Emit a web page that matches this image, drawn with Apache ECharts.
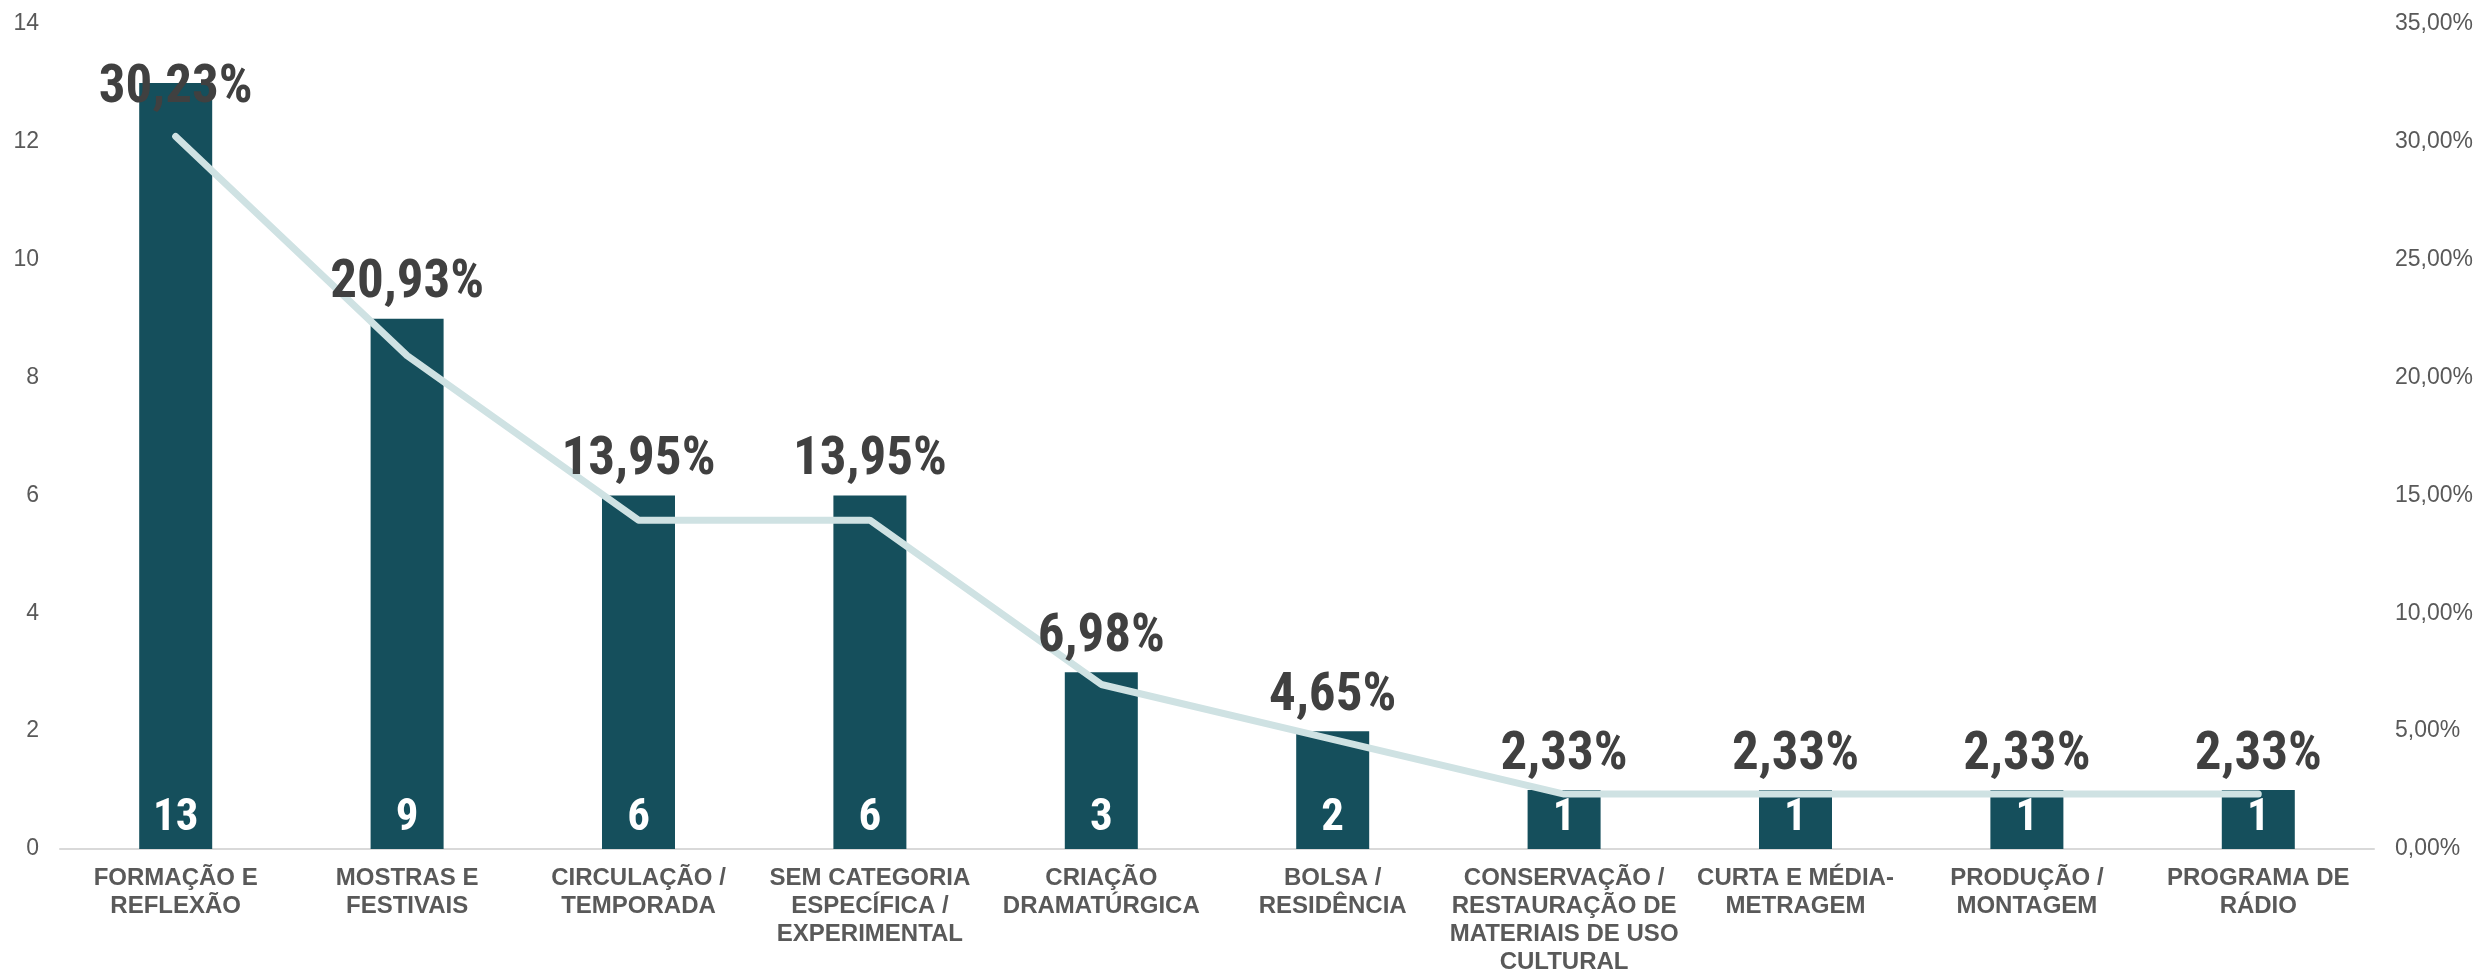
<!DOCTYPE html>
<html>
<head>
<meta charset="utf-8">
<script src="https://cdn.jsdelivr.net/npm/echarts@6/dist/echarts.min.js"></script>
<style>
html, body { margin: 0; padding: 0; background: #fff; }
#container { width: 2476px; height: 976px; }
</style>
</head>
<body>
<div id="container"></div>
<script>
var dom = document.getElementById('container');
var myChart = echarts.init(dom);

// categorias (com quebra de linha como no gráfico original)
var categories = [
    'FORMAÇÃO E\nREFLEXÃO',
    'MOSTRAS E\nFESTIVAIS',
    'CIRCULAÇÃO /\nTEMPORADA',
    'SEM CATEGORIA\nESPECÍFICA /\nEXPERIMENTAL',
    'CRIAÇÃO\nDRAMATÚRGICA',
    'BOLSA /\nRESIDÊNCIA',
    'CONSERVAÇÃO /\nRESTAURAÇÃO DE\nMATERIAIS DE USO\nCULTURAL',
    'CURTA E MÉDIA-\nMETRAGEM',
    'PRODUÇÃO /\nMONTAGEM',
    'PROGRAMA DE\nRÁDIO'
];

// quantidade de projetos
var counts = [13, 9, 6, 6, 3, 2, 1, 1, 1, 1];

// percentual de cada categoria
var percents = [30.23, 20.93, 13.95, 13.95, 6.98, 4.65, 2.33, 2.33, 2.33, 2.33];

var axisFont = '"Liberation Sans", Arial, sans-serif';
var condensed = 'Roboto, sans-serif';

function pct(v) {
    return v.toFixed(2).replace('.', ',') + '%';
}

var option = {
    backgroundColor: '#ffffff',
    animation: false,
    grid: {
        left: 60,
        right: 100,
        top: 24,
        bottom: 122
    },
    xAxis: {
        type: 'category',
        data: categories,
        axisTick: { show: false },
        axisLine: { lineStyle: { color: '#d9d9d9', width: 2 } },
        axisLabel: {
            interval: 0,
            margin: 15,
            color: '#595959',
            fontFamily: axisFont,
            fontWeight: 'bold',
            fontSize: 24,
            lineHeight: 28
        }
    },
    yAxis: [
        {
            type: 'value',
            min: 0,
            max: 14,
            interval: 2,
            splitLine: { show: false },
            axisLine: { show: false },
            axisTick: { show: false },
            axisLabel: {
                margin: 21,
                color: '#595959',
                fontFamily: axisFont,
                fontSize: 23
            }
        },
        {
            type: 'value',
            min: 0,
            max: 35,
            interval: 5,
            splitLine: { show: false },
            axisLine: { show: false },
            axisTick: { show: false },
            axisLabel: {
                margin: 21,
                color: '#595959',
                fontFamily: axisFont,
                fontSize: 23,
                formatter: function (v) { return pct(v); }
            }
        }
    ],
    series: [
        {
            name: 'Quantidade',
            type: 'bar',
            data: counts,
            barWidth: 73,
            itemStyle: { color: '#154f5c' },
            label: {
                show: true,
                position: 'insideBottom',
                distance: 8,
                color: '#ffffff',
                fontFamily: condensed,
                fontWeight: 'bold condensed',
                fontSize: 45
            },
            z: 2
        },
        {
            // série invisível só para os rótulos de percentual acima das barras
            name: 'Rótulo',
            type: 'bar',
            data: counts,
            barWidth: 73,
            barGap: '-100%',
            itemStyle: { color: 'transparent' },
            label: {
                show: true,
                position: 'top',
                distance: 8,
                color: '#404040',
                fontFamily: condensed,
                fontWeight: 'bold condensed',
                fontSize: 53,
                formatter: function (p) { return pct(percents[p.dataIndex]); }
            },
            labelLayout: function (params) {
                // mantém o rótulo dentro da área do gráfico
                if (params.labelRect.y < 62) {
                    return { dy: 62 - params.labelRect.y };
                }
                return {};
            },
            z: 4
        },
        {
            name: 'Percentual',
            type: 'line',
            yAxisIndex: 1,
            data: percents,
            symbol: 'none',
            lineStyle: { color: '#cfe2e3', width: 7, cap: 'round', join: 'round' },
            z: 3
        }
    ]
};

myChart.setOption(option, true);
</script>
</body>
</html>
